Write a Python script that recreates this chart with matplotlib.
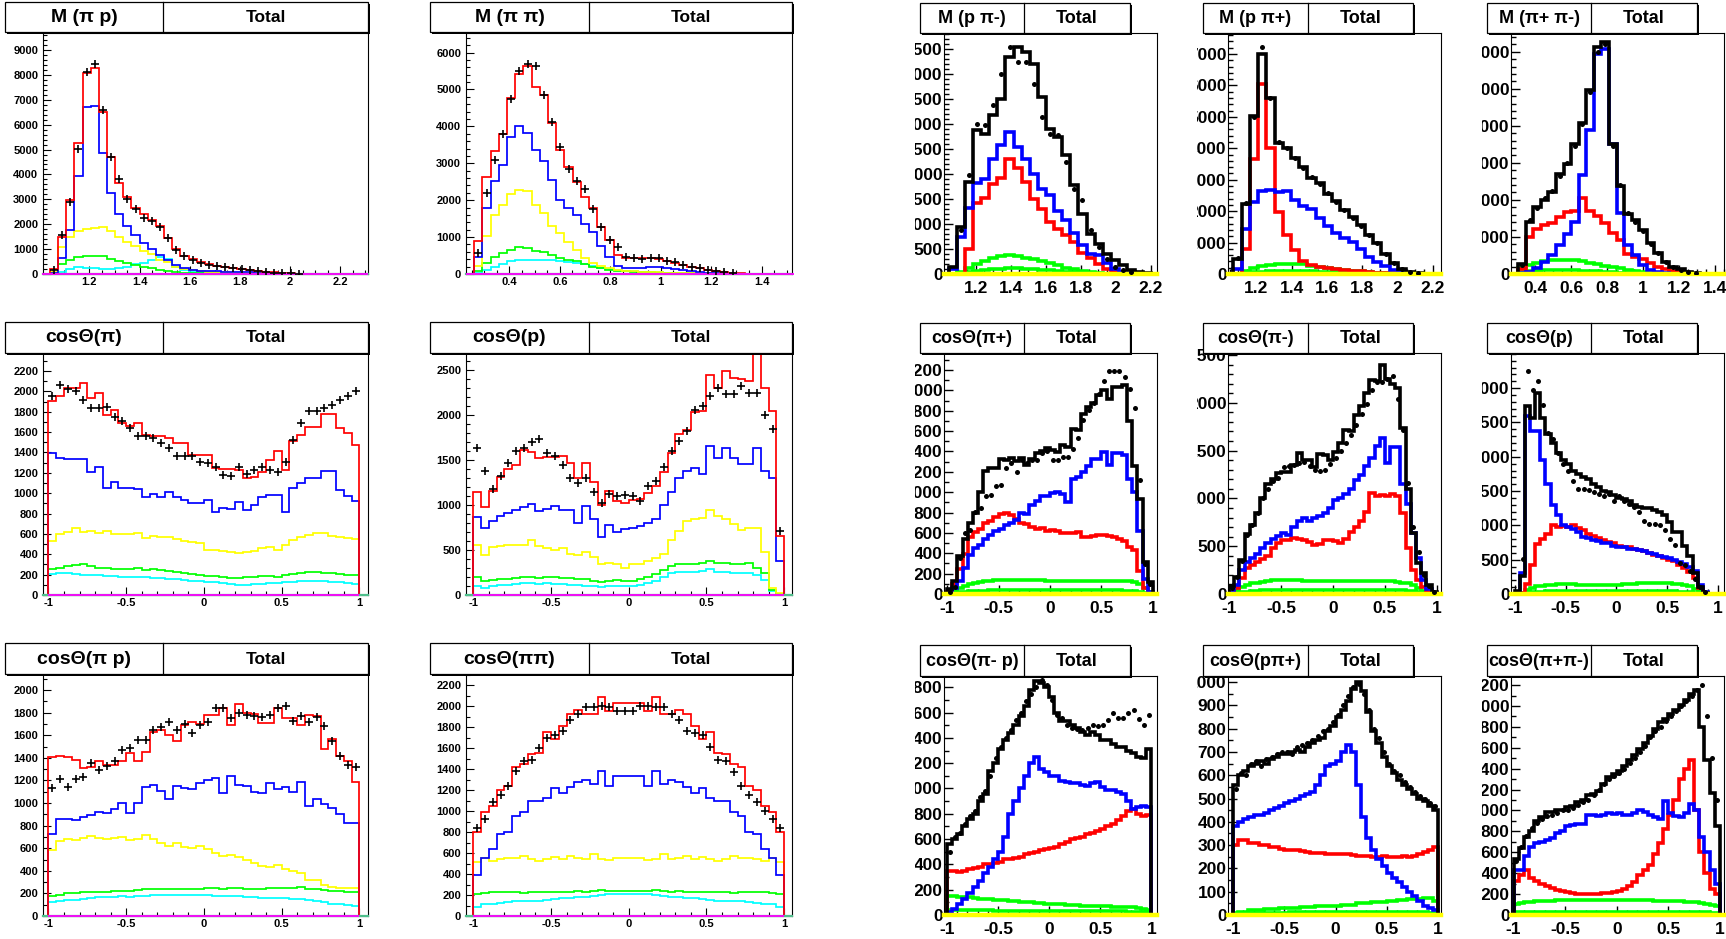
import numpy as np
import matplotlib
matplotlib.use("Agg")
import matplotlib.pyplot as plt
from matplotlib.patches import Rectangle
from matplotlib.lines import Line2D
from matplotlib.ticker import MultipleLocator
from matplotlib.transforms import Bbox, TransformedBbox
from matplotlib import font_manager

nan = np.nan

# ---------------- left block: fit components (thin lines) + data crosses ----------------
# M(pi p)
mpip_red = [0, 200, 1470, 2970, 5270, 8060, 8260, 6490, 4710, 3670,
            3100, 2660, 2400, 2170, 1940, 1460, 1000, 740, 590, 470,
            390, 320, 280, 240, 200, 160, 130, 90, 70, 50,
            30, 0, 0, 0, 0, 0, 0, 0, 0, 0]
mpip_data = [nan, 180, 1580, 2900, 5030, 8130, 8430, 6570, 4700, 3800,
             3020, 2630, 2250, 2140, 1870, 1440, 970, 720, 570, 460,
             380, 330, 270, 240, 200, 150, 120, 90, 60, 40,
             30, 20, nan, nan, nan, nan, nan, nan, nan, nan]
mpip_blue = [0, 30, 640, 1750, 3920, 6700, 6730, 4870, 3270, 2400,
             1930, 1550, 1240, 1010, 780, 580, 350, 240, 180, 140,
             120, 110, 100, 90, 80, 70, 60, 50, 40, 30,
             20, 10, 0, 0, 0, 0, 0, 0, 0, 0]
mpip_yellow = [0, 70, 1070, 1500, 1740, 1820, 1850, 1900, 1740, 1500,
               1290, 1140, 940, 800, 570, 470, 300, 200, 150, 110,
               90, 80, 70, 60, 55, 50, 45, 40, 35, 30,
               20, 10, 0, 0, 0, 0, 0, 0, 0, 0]
mpip_green = [0, 20, 400, 560, 680, 720, 720, 720, 620, 520,
              450, 380, 300, 230, 180, 120, 80, 60, 50, 40,
              30, 25, 20, 15, 10, 10, 5, 5, 0, 0,
              0, 0, 0, 0, 0, 0, 0, 0, 0, 0]
mpip_cyan = [0, 10, 100, 200, 280, 260, 230, 200, 200, 230,
             300, 400, 450, 550, 700, 600, 300, 150, 100, 80,
             60, 50, 40, 30, 25, 20, 15, 10, 5, 0,
             0, 0, 0, 0, 0, 0, 0, 0, 0, 0]

# M(pi pi)
mpipi_red = [0, 900, 2630, 3330, 3780, 4780, 5410, 5630, 5070, 4840,
             4080, 3370, 2890, 2500, 2090, 1780, 1280, 920, 515, 420,
             420, 440, 440, 400, 360, 310, 240, 200, 150, 110,
             80, 60, 36, 20, 0, 0, 0, 0, 0, 0]
mpipi_data = [nan, 580, 2200, 3085, 3780, 4730, 5500, 5700, 5640, 4840,
              4130, 3450, 2840, 2530, 2290, 1760, 1280, 920, 720, 470,
              420, 410, 430, 440, 360, 330, 250, 200, 150, 110,
              80, 50, 30, nan, nan, nan, nan, nan, nan, nan]
mpipi_blue = [0, 450, 1780, 2520, 2940, 3700, 4000, 3810, 3370, 3060,
              2550, 2010, 1780, 1600, 1360, 1150, 770, 450, 230, 150,
              150, 170, 190, 180, 160, 130, 100, 80, 60, 40,
              25, 10, 0, 0, 0, 0, 0, 0, 0, 0]
mpipi_yellow = [0, 230, 1020, 1600, 1880, 2180, 2270, 2240, 1880, 1650,
                1300, 1120, 870, 660, 440, 300, 220, 150, 110, 90,
                70, 60, 50, 45, 40, 35, 30, 25, 20, 15,
                10, 5, 0, 0, 0, 0, 0, 0, 0, 0]
mpipi_green = [0, 80, 290, 470, 580, 660, 730, 700, 630, 600,
               520, 430, 380, 340, 270, 200, 150, 110, 90, 70,
               60, 50, 45, 40, 35, 30, 25, 20, 15, 10,
               5, 0, 0, 0, 0, 0, 0, 0, 0, 0]
mpipi_cyan = [0, 30, 110, 180, 260, 340, 370, 370, 370, 380,
              370, 340, 320, 300, 270, 220, 170, 130, 100, 80,
              70, 60, 50, 45, 40, 35, 30, 25, 20, 15,
              10, 5, 0, 0, 0, 0, 0, 0, 0, 0]

# cos(theta) pi
cpi_red = [1905, 1950, 2030, 2030, 2080, 1935, 1980, 1770, 1820, 1690,
           1660, 1690, 1570, 1560, 1560, 1540, 1490, 1490, 1380, 1380,
           1380, 1250, 1240, 1240, 1230, 1150, 1160, 1210, 1330, 1410,
           1230, 1510, 1570, 1650, 1650, 1780, 1780, 1640, 1590, 1470]
cpi_data = [1955, 2060, 2020, 2000, 1915, 1840, 1840, 1850, 1750, 1710,
            1640, 1560, 1560, 1540, 1495, 1440, 1365, 1365, 1365, 1310,
            1295, 1260, 1180, 1170, 1260, 1190, 1225, 1260, 1225, 1210,
            1310, 1520, 1690, 1810, 1810, 1840, 1865, 1915, 1950, 2000]
cpi_blue = [1390, 1350, 1340, 1340, 1340, 1210, 1260, 1050, 1110, 1050,
            1050, 1040, 960, 990, 960, 1010, 960, 930, 900, 900,
            930, 820, 850, 840, 910, 830, 880, 960, 980, 980,
            820, 1050, 1100, 1150, 1150, 1220, 1220, 1030, 970, 920]
cpi_yellow = [530, 600, 620, 660, 620, 630, 610, 630, 600, 600,
              600, 610, 560, 580, 570, 570, 550, 530, 520, 510,
              440, 440, 430, 420, 410, 420, 430, 460, 470, 440,
              490, 540, 570, 590, 610, 610, 580, 570, 560, 550]
cpi_green = [260, 270, 280, 290, 300, 280, 270, 270, 260, 260,
             260, 270, 250, 260, 250, 240, 230, 220, 210, 200,
             190, 185, 180, 170, 170, 175, 180, 190, 190, 180,
             200, 210, 220, 225, 230, 220, 215, 210, 200, 200]
cpi_cyan = [210, 215, 215, 210, 200, 200, 195, 190, 185, 180,
            180, 175, 175, 170, 165, 160, 155, 150, 140, 135,
            130, 125, 120, 110, 100, 100, 105, 110, 115, 120,
            125, 130, 135, 140, 140, 135, 130, 125, 120, 110]

# cos(theta) p
cp_red = [1150, 980, 1160, 1310, 1400, 1450, 1610, 1590, 1520, 1530,
          1530, 1540, 1470, 1300, 1470, 1260, 1000, 1160, 1040, 1020,
          1060, 1070, 1130, 1210, 1370, 1580, 1790, 1830, 2030, 2040,
          2450, 2300, 2490, 2410, 2400, 2380, 2900, 2300, 2050, 660]
cp_data = [1630, 1380, 1180, 1320, 1470, 1600, 1630, 1700, 1730, 1575,
           1550, 1450, 1300, 1250, 1300, 1150, 1020, 1120, 1100, 1110,
           1100, 1045, 1210, 1270, 1425, 1600, 1715, 1825, 2055, 2100,
           2210, 2300, 2235, 2235, 2325, 2250, 2250, 2000, 1840, 715]
cp_blue = [870, 740, 820, 880, 910, 940, 980, 1010, 930, 960,
           990, 950, 950, 800, 990, 850, 650, 780, 700, 730,
           750, 770, 800, 840, 1000, 1150, 1300, 1380, 1410, 1350,
           1660, 1520, 1630, 1520, 1460, 1460, 1630, 1380, 1300, 380]
cp_yellow = [560, 440, 530, 550, 560, 560, 560, 610, 550, 520,
             500, 520, 460, 450, 480, 420, 340, 360, 340, 300,
             340, 350, 380, 410, 460, 610, 710, 820, 840, 860,
             950, 880, 850, 790, 720, 740, 740, 480, 80, 20]
cp_green = [200, 160, 165, 175, 180, 190, 205, 200, 190, 195,
            195, 190, 185, 180, 175, 160, 150, 160, 165, 155,
            160, 180, 200, 230, 280, 320, 340, 345, 350, 355,
            380, 360, 355, 350, 345, 360, 300, 250, 60, 10]
cp_cyan = [105, 80, 100, 110, 115, 120, 135, 130, 125, 130,
           125, 120, 115, 110, 105, 100, 90, 100, 105, 100,
           105, 115, 130, 160, 200, 240, 255, 260, 260, 265,
           285, 260, 255, 250, 250, 240, 220, 170, 40, 10]

# cos(theta) pi p
cpp_red = [1410, 1415, 1410, 1380, 1310, 1320, 1370, 1340, 1340, 1370,
           1440, 1370, 1450, 1630, 1650, 1600, 1550, 1690, 1720, 1700,
           1780, 1780, 1840, 1690, 1880, 1800, 1790, 1710, 1710, 1840,
           1750, 1750, 1690, 1780, 1770, 1480, 1570, 1420, 1370, 1190]
cpp_data = [1130, 1210, 1140, 1210, 1230, 1350, 1290, 1330, 1370, 1470,
            1490, 1560, 1560, 1650, 1670, 1720, 1650, 1700, 1620, 1690,
            1720, 1840, 1840, 1750, 1800, 1780, 1770, 1760, 1780, 1840,
            1860, 1730, 1770, 1720, 1760, 1680, 1550, 1420, 1340, 1320]
cpp_blue = [730, 860, 860, 850, 880, 890, 920, 910, 950, 1000,
            910, 1000, 1140, 1160, 1110, 1040, 1150, 1130, 1120, 1180,
            1200, 1220, 1090, 1240, 1160, 1150, 1100, 1090, 1180, 1120,
            1140, 1100, 1190, 970, 1040, 990, 960, 900, 820, 820]
cpp_yellow = [580, 660, 680, 670, 690, 710, 690, 680, 690, 700,
              670, 680, 720, 680, 650, 620, 650, 610, 600, 620,
              590, 560, 530, 540, 520, 500, 470, 440, 430, 450,
              420, 400, 380, 320, 320, 270, 260, 250, 250, 250]
cpp_green = [180, 190, 200, 205, 210, 215, 210, 215, 220, 225,
             220, 230, 235, 240, 235, 235, 240, 240, 240, 240,
             245, 245, 240, 250, 250, 240, 240, 240, 245, 245,
             245, 250, 255, 240, 235, 230, 225, 220, 215, 210]
cpp_cyan = [120, 130, 140, 145, 150, 160, 165, 165, 170, 175,
            170, 175, 180, 185, 185, 185, 185, 185, 185, 190,
            185, 180, 175, 175, 175, 170, 165, 160, 160, 160,
            155, 150, 150, 140, 130, 120, 110, 105, 100, 90]

# cos(theta) pi pi
cpipi_red = [800, 990, 1050, 1200, 1240, 1420, 1450, 1540, 1550, 1750,
             1690, 1810, 1920, 1960, 1920, 1920, 2090, 1950, 2030, 2030,
             2030, 2030, 1950, 2090, 1920, 1920, 1960, 1920, 1810, 1690,
             1750, 1550, 1540, 1450, 1420, 1240, 1200, 1050, 990, 800]
cpipi_data = [840, 920, 1090, 1150, 1240, 1380, 1480, 1490, 1600, 1700,
              1720, 1760, 1870, 1920, 1990, 1990, 2000, 1990, 1950, 1950,
              1950, 2000, 2000, 1990, 1990, 1920, 1870, 1760, 1740, 1720,
              1610, 1490, 1480, 1370, 1240, 1150, 1090, 1000, 920, 840]
cpipi_blue = [390, 550, 640, 780, 800, 950, 990, 1100, 1100, 1120,
              1220, 1170, 1230, 1280, 1300, 1260, 1380, 1240, 1330, 1330,
              1330, 1330, 1240, 1380, 1260, 1300, 1280, 1230, 1170, 1220,
              1120, 1100, 1100, 990, 950, 800, 780, 640, 550, 390]
cpipi_yellow = [510, 550, 520, 540, 550, 550, 570, 540, 520, 540,
                560, 540, 570, 550, 540, 590, 540, 530, 550, 550,
                550, 550, 530, 540, 590, 540, 550, 570, 540, 560,
                540, 520, 540, 570, 550, 550, 540, 520, 550, 510]
cpipi_green = [210, 220, 230, 230, 230, 230, 220, 225, 230, 225,
               230, 225, 230, 235, 230, 235, 245, 235, 235, 235,
               235, 235, 235, 245, 235, 230, 235, 230, 225, 230,
               225, 230, 225, 220, 230, 230, 230, 230, 220, 210]
cpipi_cyan = [90, 110, 115, 120, 130, 140, 145, 140, 145, 150,
              160, 170, 175, 180, 185, 190, 200, 205, 205, 205,
              205, 205, 205, 200, 190, 185, 180, 175, 170, 160,
              150, 145, 140, 145, 140, 130, 120, 115, 110, 90]

# ---------------- right block: thick lines + data dots ----------------
# M(p pi-)
mppim_black = [0, 150, 950, 1850, 2880, 2810, 3180, 3500, 4350, 4550,
               4450, 4200, 3550, 2910, 2750, 2380, 1780, 1210, 810, 610,
               410, 280, 180, 90, 50, 20, 0]
mppim_dots = [nan, nan, 880, 1980, 3000, 2980, 3380, 4010, 4550, 4250,
              4250, 3810, 3150, 2810, 2780, 2250, 1710, 1480, 880, 550,
              310, 150, 80, 50, nan, nan, nan]
mppim_blue = [0, 100, 750, 1330, 1820, 1900, 2300, 2580, 2850, 2550,
              2300, 2000, 1700, 1580, 1260, 1090, 830, 580, 400, 380,
              220, 100, 50, 20, 0, 0, 0]
mppim_red = [0, 0, 0, 510, 1430, 1520, 1800, 1920, 2300, 2130,
             1850, 1500, 1300, 1040, 900, 780, 640, 430, 330, 200,
             110, 40, 10, 0, 0, 0, 0]
mppim_green = [0, 0, 50, 130, 200, 270, 330, 370, 390, 370,
               330, 300, 260, 220, 180, 130, 100, 70, 40, 20,
               10, 0, 0, 0, 0, 0, 0]
mppim_green2 = [0, 0, 20, 40, 60, 80, 100, 110, 120, 115,
                110, 100, 90, 80, 65, 50, 40, 30, 20, 10,
                5, 0, 0, 0, 0, 0, 0]

# M(p pi+)
mppip_black = [0, 480, 2220, 5030, 7000, 5590, 4160, 4000, 3680, 3410,
               3070, 2880, 2560, 2330, 2030, 1800, 1550, 1230, 1000, 640,
               350, 150, 60, 30, 10, 0]
mppip_dots = [nan, 500, 2250, 5000, 7230, 5600, 4200, 4000, 3700, 3380,
              3080, 2850, 2580, 2300, 2050, 1780, 1540, 1250, 980, 650,
              340, 150, 60, 30, nan, nan]
mppip_blue = [0, 150, 1420, 2280, 2640, 2680, 2620, 2640, 2340, 2160,
              2060, 1770, 1540, 1320, 1130, 1010, 790, 530, 380, 250,
              130, 70, 30, 10, 0, 0]
mppip_red = [0, 0, 800, 3650, 6050, 4020, 1960, 1230, 750, 420,
             300, 230, 190, 150, 120, 100, 80, 60, 40, 30,
             20, 0, 0, 0, 0, 0]
mppip_green = [0, 0, 80, 180, 250, 300, 320, 330, 330, 310,
               260, 220, 190, 160, 130, 100, 80, 60, 40, 20,
               10, 0, 0, 0, 0, 0]
mppip_green2 = [0, 0, 20, 50, 70, 90, 100, 100, 100, 95,
                85, 75, 65, 55, 45, 35, 25, 15, 10, 5,
                0, 0, 0, 0, 0, 0]

# M(pi+ pi-)
mpp_black = [0, 270, 1410, 1810, 2010, 2210, 2700, 2970, 3500, 4080,
             4960, 6120, 6260, 3520, 2370, 1630, 1450, 1190, 830, 560,
             330, 200, 130, 60, 30, 10, 0, 0]
mpp_dots = [nan, 250, 1450, 1780, 2050, 2250, 2650, 3000, 3450, 4050,
            4900, 6000, 6200, 3450, 2400, 1650, 1400, 1150, 800, 560,
            330, 200, 120, 60, 30, nan, nan, nan]
mpp_blue = [0, 30, 60, 150, 320, 500, 790, 1070, 1400, 2680,
            3900, 5930, 6060, 3520, 1650, 790, 500, 240, 110, 50,
            20, 0, 0, 0, 0, 0, 0, 0]
mpp_red = [0, 130, 1010, 1210, 1330, 1370, 1530, 1660, 1700, 2050,
           1700, 1560, 1380, 1120, 910, 540, 450, 400, 300, 200,
           130, 80, 40, 20, 0, 0, 0, 0]
mpp_green = [0, 150, 250, 300, 350, 380, 390, 390, 370, 340,
             300, 260, 220, 180, 150, 120, 90, 60, 40, 20,
             10, 0, 0, 0, 0, 0, 0, 0]
mpp_green2 = [0, 60, 80, 90, 100, 105, 105, 100, 95, 90,
              80, 70, 60, 50, 40, 30, 20, 10, 5, 0,
              0, 0, 0, 0, 0, 0, 0, 0]

# cos(theta) pi+
cpip_black = [50, 130, 370, 540, 700, 800, 1000, 1210, 1240, 1240,
              1330, 1320, 1340, 1310, 1340, 1270, 1330, 1380, 1400, 1430,
              1410, 1390, 1460, 1440, 1620, 1610, 1770, 1840, 1880, 1950,
              2000, 1920, 2030, 2030, 2050, 1700, 1260, 930, 310, 120]
cpip_dots = [20, 70, 350, 600, 630, 810, 840, 960, 970, 1060,
             1070, 1240, 1290, 1200, 1320, 1290, 1320, 1320, 1380, 1400,
             1320, 1320, 1350, 1350, 1420, 1530, 1710, 1810, 1875, 1960,
             2090, 2190, 2190, 2190, 2130, 2010, 1830, 1120, 290, 100]
cpip_blue = [10, 60, 130, 260, 380, 450, 480, 540, 580, 620,
             640, 680, 700, 730, 800, 790, 870, 910, 960, 960,
             990, 1000, 980, 900, 1130, 1150, 1200, 1260, 1330, 1330,
             1390, 1270, 1380, 1380, 1370, 1130, 1000, 620, 150, 20]
cpip_red = [20, 100, 250, 390, 560, 610, 640, 700, 720, 760,
            790, 800, 780, 740, 700, 690, 660, 640, 650, 620,
            630, 620, 600, 600, 600, 610, 560, 560, 570, 580,
            580, 570, 560, 540, 520, 460, 430, 230, 60, 10]
cpip_green = [10, 30, 60, 80, 100, 110, 120, 125, 130, 135,
              135, 135, 140, 140, 140, 140, 140, 135, 135, 130,
              130, 130, 130, 125, 125, 125, 125, 125, 125, 125,
              125, 130, 130, 130, 130, 125, 120, 100, 60, 20]
cpip_green2 = [5, 10, 15, 20, 25, 25, 30, 30, 35, 35,
               35, 35, 35, 35, 35, 35, 35, 35, 35, 35,
               35, 35, 35, 35, 35, 35, 35, 35, 35, 35,
               35, 35, 35, 35, 30, 30, 25, 20, 10, 5]

# cos(theta) pi-
cpim_black = [80, 180, 360, 630, 720, 850, 1000, 1150, 1200, 1270,
              1280, 1280, 1350, 1470, 1400, 1400, 1330, 1460, 1450, 1400,
              1490, 1580, 1720, 1700, 1870, 1970, 2100, 2240, 2230, 2400,
              2250, 2200, 2160, 1740, 1100, 640, 320, 220, 90, 20]
cpim_dots = [60, 180, 350, 620, 720, 850, 1000, 1100, 1180, 1210,
             1330, 1340, 1350, 1370, 1380, 1340, 1300, 1290, 1300, 1360,
             1420, 1500, 1580, 1660, 1770, 1880, 1990, 2130, 2220, 2220,
             2250, 2280, 2040, 1720, 1160, 700, 440, 200, 80, 20]
cpim_blue = [20, 90, 250, 330, 380, 420, 480, 530, 580, 610,
             640, 620, 700, 760, 800, 760, 790, 820, 850, 900,
             980, 1000, 1050, 1100, 1190, 1250, 1340, 1420, 1550, 1630,
             1370, 1540, 1540, 1150, 940, 640, 380, 150, 50, 10]
cpim_red = [10, 60, 170, 270, 300, 330, 370, 400, 480, 530,
            560, 570, 590, 580, 560, 540, 510, 520, 560, 560,
            550, 530, 580, 650, 700, 760, 860, 1060, 1020, 1040,
            1030, 1050, 1020, 850, 480, 250, 150, 70, 20, 5]
cpim_green = [10, 40, 70, 90, 110, 120, 130, 140, 150, 150,
              150, 150, 150, 150, 140, 140, 140, 140, 135, 135,
              140, 140, 140, 140, 140, 140, 140, 140, 140, 140,
              135, 135, 130, 120, 110, 90, 60, 30, 10, 5]
cpim_green2 = [5, 10, 20, 25, 30, 35, 40, 40, 45, 45,
               45, 45, 45, 45, 45, 45, 45, 45, 45, 45,
               45, 45, 45, 45, 45, 45, 45, 45, 45, 45,
               45, 45, 40, 40, 35, 30, 20, 10, 5, 0]

# cos(theta) p
cpr_black = [40, 260, 2740, 2560, 2930, 2570, 2330, 2200, 2050, 1950,
             1900, 1800, 1750, 1700, 1680, 1600, 1560, 1500, 1480, 1450,
             1400, 1380, 1350, 1300, 1270, 1250, 1250, 1230, 1200, 1150,
             1050, 900, 900, 700, 550, 300, 100, 20, 0, 0]
cpr_dots = [nan, 515, 3255, 2980, 3110, 2750, 2350, 2255, 2060, 1890,
            1800, 1650, 1530, 1530, 1510, 1480, 1460, 1435, 1460, 1360,
            1435, 1360, 1310, 1265, 1195, 1070, 1025, 1025, 1000, 930,
            805, 710, 445, 420, 330, 220, 100, 30, nan, nan]
cpr_blue = [0, 300, 2600, 2380, 2380, 1950, 1600, 1300, 1150, 1000,
            980, 950, 900, 830, 820, 780, 770, 750, 750, 700,
            690, 680, 660, 650, 640, 620, 600, 580, 560, 540,
            520, 500, 470, 440, 400, 330, 130, 30, 0, 0]
cpr_red = [0, 20, 150, 420, 725, 805, 880, 1000, 975, 990,
           970, 1000, 960, 930, 870, 840, 820, 780, 760, 740,
           700, 690, 680, 650, 640, 620, 600, 570, 550, 530,
           500, 480, 430, 380, 320, 230, 90, 20, 0, 0]
cpr_green = [0, 20, 60, 90, 110, 120, 130, 135, 140, 140,
             140, 140, 135, 130, 130, 125, 125, 125, 130, 130,
             135, 140, 145, 150, 155, 160, 160, 165, 165, 160,
             155, 150, 140, 130, 110, 80, 40, 10, 0, 0]
cpr_green2 = [0, 5, 15, 25, 30, 35, 40, 40, 40, 40,
              40, 40, 40, 40, 40, 40, 40, 40, 40, 40,
              40, 40, 40, 40, 40, 40, 40, 40, 40, 40,
              40, 40, 35, 30, 25, 20, 10, 5, 0, 0]

# cos(theta) pi- p
cpmp_black = [560, 600, 640, 700, 760, 800, 900, 960, 1140, 1200,
              1310, 1380, 1440, 1500, 1570, 1650, 1780, 1850, 1830, 1800,
              1720, 1600, 1530, 1530, 1500, 1480, 1450, 1420, 1450, 1420,
              1380, 1380, 1350, 1330, 1330, 1300, 1280, 1250, 1240, 1310]
cpmp_dots = [500, 620, 650, 720, 780, 820, 930, 980, 1100, 1240,
             1330, 1400, 1460, 1540, 1600, 1690, 1750, 1800, 1860, 1820,
             1700, 1580, 1560, 1500, 1480, 1470, 1460, 1480, 1500, 1490,
             1500, 1540, 1600, 1560, 1560, 1600, 1620, 1550, 1500, 1580]
cpmp_blue = [20, 50, 90, 130, 170, 220, 270, 330, 380, 440,
             500, 620, 800, 900, 1000, 1100, 1200, 1250, 1150, 1130,
             1100, 1100, 1060, 1050, 1040, 1040, 1030, 1020, 1040, 1050,
             1010, 990, 990, 970, 960, 900, 840, 850, 860, 850]
cpmp_red = [350, 350, 340, 350, 360, 370, 380, 400, 400, 410,
            420, 440, 440, 450, 460, 480, 490, 500, 510, 520,
            530, 540, 560, 580, 600, 610, 620, 640, 650, 660,
            680, 700, 720, 750, 780, 820, 840, 800, 780, 790]
cpmp_green = [150, 150, 145, 140, 140, 135, 130, 130, 125, 120,
              120, 115, 110, 110, 105, 100, 100, 95, 95, 90,
              90, 85, 85, 80, 80, 80, 75, 75, 75, 70,
              70, 70, 65, 65, 60, 60, 60, 55, 50, 40]
cpmp_green2 = [40, 40, 40, 40, 40, 40, 40, 40, 40, 35,
               35, 35, 35, 35, 35, 35, 35, 30, 30, 30,
               30, 30, 30, 30, 30, 30, 30, 30, 30, 30,
               30, 30, 30, 30, 30, 25, 25, 25, 20, 20]

# cos(theta) p pi+
cppp_black = [560, 600, 620, 640, 650, 660, 650, 670, 680, 690,
              690, 700, 710, 700, 720, 740, 750, 760, 790, 810,
              850, 880, 920, 970, 1000, 960, 870, 790, 740, 680,
              640, 610, 580, 560, 540, 520, 500, 490, 470, 450]
cppp_dots = [540, 610, 600, 650, 660, 640, 670, 680, 690, 700,
             700, 690, 720, 730, 740, 750, 770, 790, 800, 830,
             860, 900, 940, 980, 990, 950, 880, 800, 760, 700,
             650, 620, 600, 570, 550, 530, 510, 500, 480, 470]
cppp_blue = [380, 400, 410, 420, 430, 430, 440, 450, 460, 470,
             480, 490, 500, 510, 520, 530, 560, 600, 640, 650,
             660, 700, 730, 700, 560, 420, 330, 280, 240, 210,
             180, 160, 140, 120, 100, 80, 60, 40, 30, 20]
cppp_red = [300, 320, 320, 310, 310, 300, 300, 290, 290, 285,
            280, 280, 278, 275, 270, 268, 265, 265, 262, 260,
            260, 262, 260, 258, 255, 255, 252, 250, 250, 252,
            250, 248, 250, 252, 250, 255, 260, 270, 280, 290]
cppp_green = [10, 15, 15, 20, 20, 20, 25, 25, 25, 30,
              30, 30, 30, 35, 35, 35, 40, 40, 40, 40,
              40, 45, 45, 45, 50, 50, 50, 55, 55, 55,
              60, 60, 65, 65, 70, 70, 70, 75, 75, 60]
cppp_green2 = [5, 5, 5, 8, 8, 8, 10, 10, 10, 10,
               10, 12, 12, 12, 12, 12, 12, 12, 15, 15,
               15, 15, 15, 15, 15, 15, 15, 15, 15, 15,
               15, 15, 15, 15, 15, 15, 12, 12, 10, 8]

# cos(theta) pi+ pi-
cpppm_black = [535, 640, 745, 800, 903, 940, 987, 990, 1008, 1000,
               1029, 1040, 1082, 1100, 1145, 1160, 1187, 1250, 1323, 1350,
               1376, 1430, 1481, 1530, 1586, 1650, 1712, 1780, 1848, 1880,
               1922, 1960, 2006, 2060, 2110, 2150, 1800, 1480, 1170, 850]
cpppm_dots = [520, 650, 760, 830, 880, 920, 950, 960, 980, 1000,
              1000, 1020, 1050, 1080, 1100, 1150, 1200, 1250, 1300, 1330,
              1360, 1400, 1450, 1500, 1560, 1620, 1700, 1760, 1800, 1860,
              1900, 1950, 2000, 2050, 2100, 2150, 2200, 1900, 1500, 1100]
cpppm_blue = [430, 430, 560, 650, 693, 700, 720, 740, 780, 800,
              850, 860, 870, 870, 955, 955, 950, 960, 976, 970,
              976, 960, 960, 980, 1008, 990, 960, 940, 920, 1092,
              980, 950, 940, 980, 1060, 1000, 745, 600, 430, 300]
cpppm_red = [325, 378, 430, 350, 325, 300, 273, 260, 241, 230,
             220, 210, 205, 200, 200, 200, 205, 210, 215, 220,
             230, 250, 273, 320, 378, 430, 483, 580, 693, 820,
             955, 1100, 1300, 1400, 1481, 1000, 600, 400, 250, 200]
cpppm_green = [110, 115, 120, 125, 130, 130, 135, 135, 140, 140,
               140, 140, 140, 140, 140, 140, 140, 140, 140, 140,
               140, 140, 140, 140, 140, 140, 140, 135, 135, 135,
               130, 130, 130, 125, 125, 120, 115, 110, 100, 90]
cpppm_green2 = [30, 30, 30, 30, 30, 30, 30, 30, 30, 30,
                30, 30, 30, 30, 30, 30, 30, 30, 30, 30,
                30, 30, 30, 30, 30, 30, 30, 30, 30, 30,
                30, 30, 30, 30, 30, 30, 25, 25, 20, 20]

# ---------------- tick values ----------------
mpip_xt = [1.2, 1.4, 1.6, 1.8, 2.0, 2.2]
mpipi_xt = [0.4, 0.6, 0.8, 1.0, 1.2, 1.4]
cos_xt = [-1, -0.5, 0, 0.5, 1]
mpip_yt = [0, 1000, 2000, 3000, 4000, 5000, 6000, 7000, 8000, 9000]
mpipi_yt = [0, 1000, 2000, 3000, 4000, 5000, 6000]
cpi_yt = [0, 200, 400, 600, 800, 1000, 1200, 1400, 1600, 1800, 2000, 2200]
cp_yt = [0, 500, 1000, 1500, 2000, 2500]
cpp_yt = [0, 200, 400, 600, 800, 1000, 1200, 1400, 1600, 1800, 2000]
cpipi_yt = [0, 200, 400, 600, 800, 1000, 1200, 1400, 1600, 1800, 2000, 2200]
mppim_yt = [0, 500, 1000, 1500, 2000, 2500, 3000, 3500, 4000, 4500]
mppip_yt = [0, 1000, 2000, 3000, 4000, 5000, 6000, 7000]
mpp_yt = [0, 1000, 2000, 3000, 4000, 5000, 6000]
cpip_yt = [0, 200, 400, 600, 800, 1000, 1200, 1400, 1600, 1800, 2000, 2200]
cpim_yt = [0, 500, 1000, 1500, 2000, 2500]
cpr_yt = [0, 500, 1000, 1500, 2000, 2500, 3000]
cpmp_yt = [0, 200, 400, 600, 800, 1000, 1200, 1400, 1600, 1800]
cppp_yt = [0, 100, 200, 300, 400, 500, 600, 700, 800, 900, 1000]
cpppm_yt = [0, 200, 400, 600, 800, 1000, 1200, 1400, 1600, 1800, 2000, 2200]

# ---------------- drawing ----------------
def has_font(name):
    try:
        font_manager.findfont(name, fallback_to_default=False)
        return True
    except ValueError:
        return False

NARROW = 'Liberation Sans Narrow' if has_font('Liberation Sans Narrow') else 'Liberation Sans'
plt.rcParams['font.family'] = ['Liberation Sans', 'DejaVu Sans']
plt.rcParams['font.weight'] = 'bold'

RED, BLUE, YEL, GRN, CYN, MAG = '#ff0000', '#0000ff', '#ffff00', '#00ff00', '#00ffff', '#ff00ff'

W, H = 1726, 939
fig = plt.figure(figsize=(W / 100, H / 100), dpi=100)
fig.patch.set_facecolor('white')


def fx(x):
    return x / W


def fy(y):
    return 1 - y / H


def make_axes(l, r, t, b, xlim, ylim):
    ax = fig.add_axes([fx(l), fy(b), (r - l) / W, (b - t) / H])
    ax.set_xlim(*xlim)
    ax.set_ylim(*ylim)
    for s in ax.spines.values():
        s.set_linewidth(0.8)
    return ax


def title_box(x0, xd, x1, y0, y1, name, fs_name, fs_total):
    sh = 2.2
    fig.add_artist(Rectangle((fx(x0 + sh), fy(y1 + sh)), (x1 - x0) / W, (y1 - y0) / H,
                             transform=fig.transFigure, facecolor='black',
                             edgecolor='none', zorder=20))
    fig.add_artist(Rectangle((fx(x0), fy(y1)), (x1 - x0) / W, (y1 - y0) / H,
                             transform=fig.transFigure, facecolor='white',
                             edgecolor='black', lw=0.9, zorder=21))
    fig.add_artist(Line2D([fx(xd), fx(xd)], [fy(y0), fy(y1)], transform=fig.transFigure,
                          color='black', lw=0.9, zorder=22))
    ym = fy((y0 + y1) / 2 + 0.5)
    fig.text(fx((x0 + xd) / 2), ym, name, ha='center', va='center',
             fontsize=fs_name, zorder=23)
    fig.text(fx((xd + x1) / 2), ym, 'Total', ha='center', va='center',
             fontsize=fs_total, zorder=23)


def fmt(v):
    return f"{v:g}"


def left_panel(col, row, name, bins, xlim, ytop, series, data, xt, xminor, yt, yminor):
    l, r, bx0, bxd, bx1 = col
    t, b, by0, by1 = row
    ax = make_axes(l, r, t, b, xlim, (0, ytop))
    edges = np.linspace(*bins)
    centers = 0.5 * (edges[:-1] + edges[1:])
    ax.axhline(0, color='#4fbf8c', lw=1.6, clip_on=False, zorder=2.6)
    ax.hlines(0, edges[0], edges[-1], color=MAG, lw=1.3, zorder=2.7, clip_on=False)
    for z, (vals, col_) in enumerate(series):
        ax.stairs(vals, edges, color=col_, lw=1.25, baseline=0, zorder=2 + 0.05 * z)
    ax.plot(centers, data, '+', color='black', ms=5.5, mew=1.2, zorder=4)
    ax.set_xticks(xt, labels=[fmt(v) for v in xt])
    ax.set_yticks(yt, labels=[fmt(v) for v in yt])
    ax.xaxis.set_minor_locator(MultipleLocator(xminor))
    ax.yaxis.set_minor_locator(MultipleLocator(yminor))
    ax.tick_params(which='both', direction='in', top=False, right=False, width=0.8)
    ax.tick_params(which='major', length=5.5, labelsize=8)
    ax.tick_params(which='minor', length=3)
    ax.tick_params(axis='x', pad=2.5)
    ax.tick_params(axis='y', pad=3.5)
    title_box(bx0, bxd, bx1, by0, by1, name, 14, 12.5)
    return ax


def right_panel(col, row, name, bins, xlim, ytop, black, dots, blue, red, green, green2,
                xt, xminor, yt, yminor):
    l, r, bx0, bxd, bx1, cut = col
    t, b, by0, by1 = row
    ax = make_axes(l, r, t, b, xlim, (0, ytop))
    edges = np.linspace(*bins)
    centers = 0.5 * (edges[:-1] + edges[1:])
    lw = 2.6
    ax.stairs(green2, edges, color=GRN, lw=lw, baseline=0, zorder=2.1)
    ax.stairs(green, edges, color=GRN, lw=lw, baseline=0, zorder=2.2)
    ax.stairs(red, edges, color=RED, lw=lw, baseline=0, zorder=2.3)
    ax.stairs(blue, edges, color=BLUE, lw=lw, baseline=0, zorder=2.4)
    ax.stairs(black, edges, color='black', lw=lw, baseline=0, zorder=2.5)
    ax.axhline(0, color=YEL, lw=3.2, clip_on=False, zorder=2.8)
    ax.plot(centers, dots, 'o', color='black', ms=3.6, mew=0, zorder=3)
    ax.set_xticks(xt, labels=[fmt(v) for v in xt])
    ax.set_yticks(yt, labels=[fmt(v) for v in yt])
    ax.xaxis.set_minor_locator(MultipleLocator(xminor))
    ax.yaxis.set_minor_locator(MultipleLocator(yminor))
    ax.tick_params(which='both', direction='in', top=False, right=False, width=1.0)
    ax.tick_params(which='major', length=6.5, labelsize=12.5)
    ax.tick_params(which='minor', length=3.5)
    ax.tick_params(axis='x', pad=5)
    ax.tick_params(axis='y', pad=1)
    clip = TransformedBbox(Bbox.from_extents(cut / W, 0, 1, 1), fig.transFigure)
    for lbl in ax.get_xticklabels() + ax.get_yticklabels():
        lbl.set_fontfamily(NARROW)
    for lbl in ax.get_yticklabels():
        lbl.set_clip_box(clip)
        lbl.set_clip_on(True)
    title_box(bx0, bxd, bx1, by0, by1, name, 13, 13)
    return ax


# layout in pixels: axes left/right, title box x0/divider/x1 (+ label cut for right side)
LCOL = [(43, 368, 5, 163, 368), (466, 792, 430, 589, 792)]
RCOL = [(944, 1157, 920, 1024, 1130, 915), (1228, 1441, 1203, 1308, 1413, 1197),
        (1511, 1724, 1487, 1591, 1697, 1482)]
LROW = [(33, 274, 2, 32), (353, 595, 322, 353), (674, 916, 643, 674)]
RROW = [(33, 274, 3, 33), (353, 594, 323, 353), (676, 915, 645, 676)]

left_panel(LCOL[0], LROW[0], 'M (π p)', (1.01, 2.31, 41), (1.015, 2.31), 9683,
           [(mpip_cyan, CYN), (mpip_green, GRN), (mpip_yellow, YEL), (mpip_blue, BLUE), (mpip_red, RED)],
           mpip_data, mpip_xt, 0.05, mpip_yt, 200)
left_panel(LCOL[1], LROW[0], 'M (π π)', (0.228, 1.528, 41), (0.228, 1.52), 6530,
           [(mpipi_cyan, CYN), (mpipi_green, GRN), (mpipi_yellow, YEL), (mpipi_blue, BLUE), (mpipi_red, RED)],
           mpipi_data, mpipi_xt, 0.05, mpipi_yt, 200)
left_panel(LCOL[0], LROW[1], 'cosΘ(π)', (-1, 1, 41), (-1.035, 1.055), 2377,
           [(cpi_cyan, CYN), (cpi_green, GRN), (cpi_yellow, YEL), (cpi_blue, BLUE), (cpi_red, RED)],
           cpi_data, cos_xt, 0.1, cpi_yt, 100)
left_panel(LCOL[1], LROW[1], 'cosΘ(p)', (-1, 1, 41), (-1.047, 1.05), 2689,
           [(cp_cyan, CYN), (cp_green, GRN), (cp_yellow, YEL), (cp_blue, BLUE), (cp_red, RED)],
           cp_data, cos_xt, 0.1, cp_yt, 100)
left_panel(LCOL[0], LROW[2], 'cosΘ(π p)', (-1, 1, 41), (-1.035, 1.055), 2142,
           [(cpp_cyan, CYN), (cpp_green, GRN), (cpp_yellow, YEL), (cpp_blue, BLUE), (cpp_red, RED)],
           cpp_data, cos_xt, 0.1, cpp_yt, 100)
left_panel(LCOL[1], LROW[2], 'cosΘ(ππ)', (-1, 1, 41), (-1.047, 1.05), 2305,
           [(cpipi_cyan, CYN), (cpipi_green, GRN), (cpipi_yellow, YEL), (cpipi_blue, BLUE), (cpipi_red, RED)],
           cpipi_data, cos_xt, 0.1, cpipi_yt, 100)

right_panel(RCOL[0], RROW[0], 'M (p π-)', (1.0, 2.25, 28), (1.019, 2.236), 4826,
            mppim_black, mppim_dots, mppim_blue, mppim_red, mppim_green, mppim_green2,
            mpip_xt, 0.05, mppim_yt, 100)
right_panel(RCOL[1], RROW[0], 'M (p π+)', (1.025, 2.234, 27), (1.041, 2.245), 7668,
            mppip_black, mppip_dots, mppip_blue, mppip_red, mppip_green, mppip_green2,
            mpip_xt, 0.05, mppip_yt, 200)
right_panel(RCOL[2], RROW[0], 'M (π+ π-)', (0.265, 1.441, 29), (0.267, 1.45), 6505,
            mpp_black, mpp_dots, mpp_blue, mpp_red, mpp_green, mpp_green2,
            mpipi_xt, 0.05, mpp_yt, 200)
right_panel(RCOL[0], RROW[1], 'cosΘ(π+)', (-1, 1, 41), (-1.03, 1.04), 2367,
            cpip_black, cpip_dots, cpip_blue, cpip_red, cpip_green, cpip_green2,
            cos_xt, 0.1, cpip_yt, 100)
right_panel(RCOL[1], RROW[1], 'cosΘ(π-)', (-1, 1, 41), (-1.01, 1.04), 2521,
            cpim_black, cpim_dots, cpim_blue, cpim_red, cpim_green, cpim_green2,
            cos_xt, 0.1, cpim_yt, 100)
right_panel(RCOL[2], RROW[1], 'cosΘ(p)', (-1, 1, 41), (-1.04, 1.06), 3513,
            cpr_black, cpr_dots, cpr_blue, cpr_red, cpr_green, cpr_green2,
            cos_xt, 0.1, cpr_yt, 100)
right_panel(RCOL[0], RROW[2], 'cosΘ(π- p)', (-1, 1, 41), (-1.03, 1.055), 1889,
            cpmp_black, cpmp_dots, cpmp_blue, cpmp_red, cpmp_green, cpmp_green2,
            cos_xt, 0.1, cpmp_yt, 100)
right_panel(RCOL[1], RROW[2], 'cosΘ(pπ+)', (-1, 1, 41), (-1.05, 1.03), 1026,
            cppp_black, cppp_dots, cppp_blue, cppp_red, cppp_green, cppp_green2,
            cos_xt, 0.1, cppp_yt, 50)
right_panel(RCOL[2], RROW[2], 'cosΘ(π+π-)', (-1, 1, 41), (-1.025, 1.04), 2287,
            cpppm_black, cpppm_dots, cpppm_blue, cpppm_red, cpppm_green, cpppm_green2,
            cos_xt, 0.1, cpppm_yt, 100)

fig.savefig('out.png', dpi=100, facecolor='white')
